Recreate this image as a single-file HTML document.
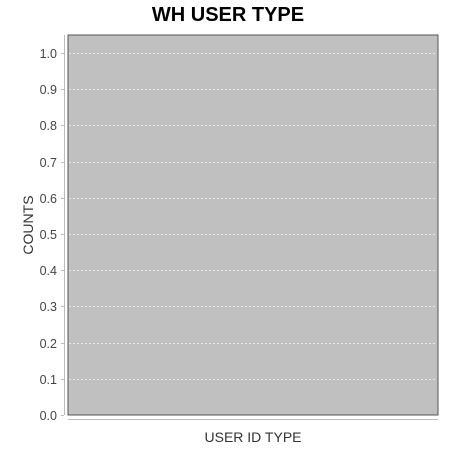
<!DOCTYPE html>
<html><head><meta charset="utf-8"><style>body{margin:0;background:#fff}svg{display:block}</style></head>
<body>
<svg width="450" height="450" font-family="'Liberation Sans', sans-serif">
<text x="228" y="21" text-anchor="middle" font-size="20" font-weight="bold" fill="#000">WH USER TYPE</text>
<rect x="68" y="35" width="370" height="380" fill="#c0c0c0" stroke="#555" stroke-width="1"/>
<g id="grid"></g>
<line x1="64.5" y1="35" x2="64.5" y2="415" stroke="#bbb"/>
<line x1="68" y1="419.5" x2="438" y2="419.5" stroke="#bbb"/>
<g id="ticks"></g>
<text x="33" y="225" transform="rotate(-90 33 225)" text-anchor="middle" font-size="14" fill="#333">COUNTS</text>
<text x="253" y="442" text-anchor="middle" font-size="14" fill="#333">USER ID TYPE</text>
</svg>
<script>
const tickValues=[0,0.1,0.2,0.3,0.4,0.5,0.6,0.7,0.8,0.9,1.0];
const tickLabels=["0.0","0.1","0.2","0.3","0.4","0.5","0.6","0.7","0.8","0.9","1.0"];
const yMin=0,yMax=1.05;
function y(v){return 415-(v-yMin)/(yMax-yMin)*380;}
const ns="http://www.w3.org/2000/svg";
const g=document.getElementById('grid'),t=document.getElementById('ticks');
tickValues.forEach((v,i)=>{
  const yy=Math.round(y(v))+0.5;
  if(v>0){const l=document.createElementNS(ns,'line');
  l.setAttribute('x1',69);l.setAttribute('x2',437);l.setAttribute('y1',yy);l.setAttribute('y2',yy);
  l.setAttribute('stroke','#e8e8e8');l.setAttribute('stroke-dasharray','2,2');
  
  
  g.appendChild(l);}
  const tk=document.createElementNS(ns,'line');
  tk.setAttribute('x1',61);tk.setAttribute('x2',64);tk.setAttribute('y1',yy);tk.setAttribute('y2',yy);tk.setAttribute('stroke','#bbb');
  
  
  t.appendChild(tk);
  const tx=document.createElementNS(ns,'text');
  tx.setAttribute('x',57);tx.setAttribute('y',yy+4.5);tx.setAttribute('text-anchor','end');tx.setAttribute('font-size','12.5');tx.setAttribute('fill','#444');
  tx.textContent=tickLabels[i];
  
  
  t.appendChild(tx);
});
</script>
</body></html>
